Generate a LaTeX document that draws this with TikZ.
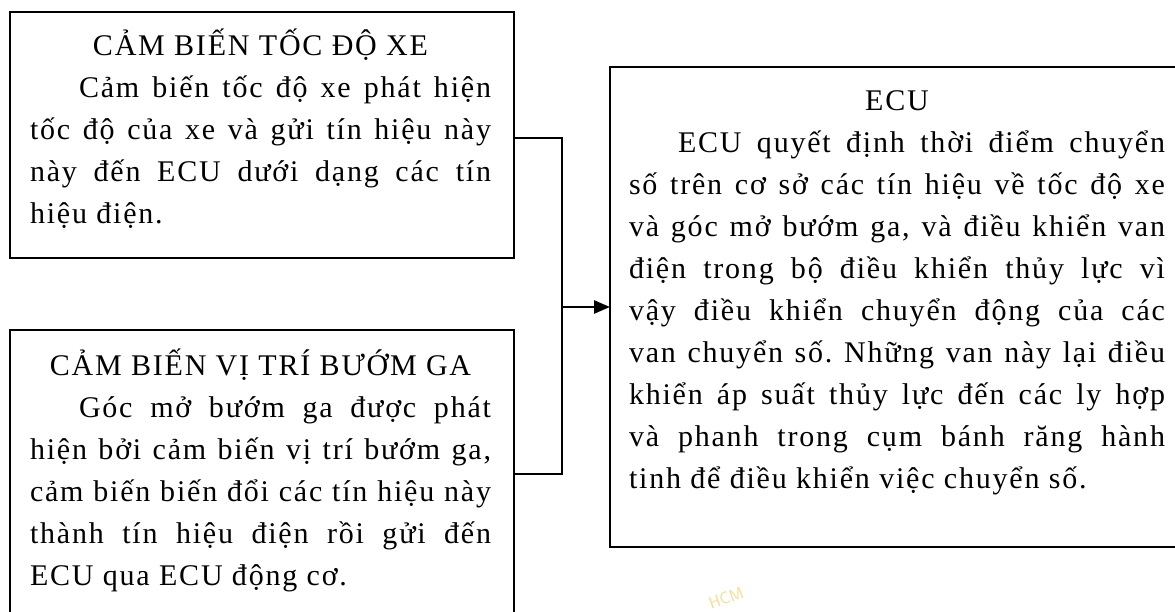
\documentclass[tikz,border=0pt]{standalone}
\usepackage{fontspec}
\setmainfont{Liberation Serif}[LetterSpace=6]
\usetikzlibrary{arrows.meta}
\definecolor{markyellow}{RGB}{246,222,150}
% one justified line, the centred heading and the ragged last line of a paragraph
\newcommand\txhead[1]{\makebox[\linewidth][c]{#1}\par}
\newcommand\txline[1]{\makebox[\linewidth][s]{#1}\par}
\newcommand\txlast[1]{\makebox[\linewidth][l]{#1}\par}
\newcommand\txind{\hspace*{49pt}}
\newcommand\txsize{\fontsize{30}{42}\selectfont\frenchspacing}
\begin{document}
\begin{tikzpicture}[x=1pt,y=-1pt,
  panel/.style={draw=black, line width=2.6pt, inner sep=0pt, outer sep=0pt, anchor=north west},
  body/.style={inner sep=0pt, outer sep=0pt, anchor=base west},
  conn/.style={draw=black, line width=2.6pt},
  tip/.style={-{Triangle[length=16pt,width=13pt]}},
  wmark/.style={text=markyellow, font=\sffamily\fontsize{17}{17}\selectfont, rotate=20}]
\clip (0,0) rectangle (1175,612);
\fill[white] (0,0) rectangle (1175,612);

% the three blocks
\node[panel, minimum width=504pt, minimum height=246pt] (speed) at (10,12) {};
\node[panel, minimum width=504pt, minimum height=330pt] (throttle) at (10,330) {};
\node[panel, minimum width=580pt, minimum height=480pt] (ecu) at (610,67) {};

% block texts
\node[body] (speedtext) at (30,55.3) {\parbox[t]{461pt}{\txsize
  \txhead{CẢM BIẾN TỐC ĐỘ XE}
  \txline{\txind Cảm biến tốc độ xe phát hiện}
  \txline{tốc độ của xe và gửi tín hiệu này}
  \txline{này đến ECU dưới dạng các tín}
  \txlast{hiệu điện.}}};

\node[body] (throttletext) at (30,375) {\parbox[t]{461pt}{\txsize
  \txhead{CẢM BIẾN VỊ TRÍ BƯỚM GA}
  \txline{\txind Góc mở bướm ga được phát}
  \txline{hiện bởi cảm biến vị trí bướm ga,}
  \txline{cảm biến biến đổi các tín hiệu này}
  \txline{thành tín hiệu điện rồi gửi đến}
  \txlast{ECU qua ECU động cơ.}}};

\node[body] (ecutext) at (629,111) {\parbox[t]{536pt}{\txsize
  \txhead{ECU}
  \txline{\txind ECU quyết định thời điểm chuyển}
  \txline{số trên cơ sở các tín hiệu về tốc độ xe}
  \txline{và góc mở bướm ga, và điều khiển van}
  \txline{điện trong bộ điều khiển thủy lực vì}
  \txline{vậy điều khiển chuyển động của các}
  \txline{van chuyển số. Những van này lại điều}
  \txline{khiển áp suất thủy lực đến các ly hợp}
  \txline{và phanh trong cụm bánh răng hành}
  \txlast{tinh để điều khiển việc chuyển số.}}};

% signal lines from both sensors into the ECU
\coordinate (jtop) at (562,138);
\coordinate (jmid) at (562,307);
\coordinate (jbot) at (562,474);
\draw[conn] (jtop -| speed.east) -- (jtop) -- (jbot) -- (jbot -| throttle.east);
\draw[conn, tip] (jmid) -- (jmid -| ecu.west);

\node[wmark] (hcm) at (726,598) {HCM};
\end{tikzpicture}
\end{document}
